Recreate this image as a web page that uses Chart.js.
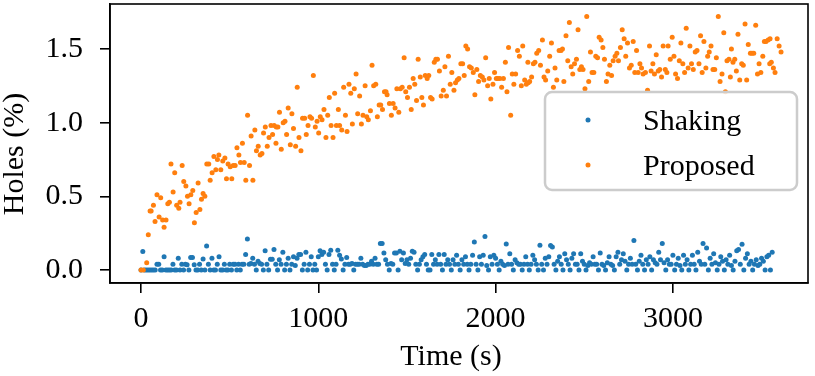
<!DOCTYPE html>
<html>
<head>
<meta charset="utf-8">
<script src="https://cdn.jsdelivr.net/npm/chart.js@4.4.1/dist/chart.umd.min.js"></script>
<style>
  html, body { margin: 0; padding: 0; background: #fff; }
</style>
</head>
<body>
<canvas id="holes" width="815" height="376"></canvas>
<script>
// Shaking: one sample every 10 s
const shakingStep = 10;
const shakingHoles = [
  0, 0.125, 0, 0, 0, 0, 0, 0, 0, 0.04,
  0.04, 0, 0, 0.09, 0, 0, 0, 0, 0.04, 0,
  0, 0.08, 0, 0.04, 0, 0.04, 0.035, 0, 0.085, 0.085,
  0.035, 0, 0, 0.04, 0, 0.075, 0, 0.163, 0.04, 0,
  0.08, 0, 0, 0.04, 0.09, 0, 0, 0.04, 0, 0,
  0.04, 0, 0.04, 0.04, 0, 0.04, 0, 0.04, 0.04, 0.105,
  0.21, 0.04, 0.045, 0.08, 0.04, 0, 0.06, 0.045, 0.04, 0,
  0.13, 0.04, 0, 0.073, 0.073, 0.14, 0.04, 0, 0.07, 0.04,
  0.12, 0, 0.04, 0.08, 0, 0.04, 0.09, 0.03, 0.08, 0.105,
  0.105, 0, 0.04, 0.12, 0, 0.04, 0.09, 0, 0.04, 0,
  0.09, 0.13, 0.105, 0.12, 0.04, 0, 0.105, 0.135, 0.04, 0,
  0.04, 0.135, 0.10, 0.075, 0, 0.04, 0.085, 0.04, 0.04, 0.045,
  0, 0.04, 0.04, 0.04, 0.08, 0.04, 0.03, 0.03, 0.04, 0.04,
  0.06, 0.04, 0.08, 0.04, 0.04, 0.18, 0.18, 0.115, 0.07, 0.04,
  0, 0.045, 0.04, 0.115, 0.115, 0, 0.127, 0.07, 0.115, 0.045,
  0.07, 0.04, 0.08, 0.127, 0.12, 0.04, 0, 0.04, 0.07, 0.09,
  0.105, 0.04, 0, 0, 0.105, 0.04, 0.07, 0.04, 0.105, 0.04,
  0, 0.105, 0.04, 0.07, 0.04, 0, 0.07, 0.04, 0.10, 0.04,
  0, 0.07, 0.04, 0.09, 0.04, 0, 0.04, 0.10, 0.19, 0.04,
  0, 0.09, 0.04, 0.10, 0.227, 0.03, 0, 0.09, 0.04, 0.10,
  0.08, 0.04, 0, 0.06, 0.04, 0.03, 0.177, 0.04, 0.11, 0.04,
  0, 0.07, 0.05, 0.04, 0.04, 0, 0.04, 0.09, 0.04, 0,
  0.04, 0.10, 0.07, 0.04, 0, 0.168, 0.04, 0, 0.08, 0.04,
  0.09, 0.167, 0.156, 0.04, 0, 0.06, 0.09, 0.04, 0, 0.11,
  0.07, 0.04, 0, 0.08, 0.11, 0.04, 0.04, 0, 0.11, 0.06,
  0.04, 0, 0.03, 0.05, 0.04, 0.09, 0.04, 0.04, 0, 0.115,
  0.04, 0.03, 0, 0.05, 0.09, 0.04, 0.03, 0, 0.09, 0.12,
  0.04, 0.07, 0.11, 0.06, 0, 0.04, 0.08, 0.04, 0.20, 0.04,
  0, 0.06, 0.10, 0.04, 0, 0.07, 0.04, 0.09, 0, 0.07,
  0.05, 0.04, 0.12, 0.07, 0.18, 0.05, 0, 0.07, 0.04, 0.04,
  0.10, 0, 0.04, 0.08, 0.03, 0, 0.10, 0.04, 0.07, 0,
  0.04, 0.10, 0.04, 0, 0.12, 0.06, 0.04, 0.18, 0.04, 0.15,
  0, 0.08, 0.04, 0.11, 0.05, 0, 0.04, 0.09, 0.06, 0,
  0.07, 0.04, 0.10, 0.03, 0, 0.06, 0.13, 0.14, 0.04, 0.175,
  0, 0.08, 0.11, 0.04, 0.06, 0, 0.04, 0.07, 0.03, 0.04,
  0.08, 0.06, 0, 0.09, 0.10, 0, 0.12
];

const proposedTime = [
  0, 13, 32, 41, 51, 57, 70, 79, 90, 102, 111, 122, 130, 141, 151, 160, 169, 181, 190, 201,
  213, 220, 232, 241, 253, 262, 271, 281, 292, 301, 311, 322, 332, 341, 350, 360, 371, 382, 390, 401,
  411, 422, 431, 439, 450, 461, 473, 482, 491, 503, 512, 520, 531, 541, 552, 561, 572, 582, 591, 601,
  612, 621, 631, 642, 651, 661, 672, 682, 691, 701, 712, 722, 733, 742, 751, 761, 763, 772, 781, 791,
  802, 812, 821, 830, 842, 851, 860, 872, 881, 891, 902, 911, 923, 932, 942, 953, 962, 972, 983, 993,
  1002, 1011, 1021, 1032, 1043, 1053, 1062, 1072, 1083, 1092, 1102, 1113, 1120, 1132, 1143, 1153, 1162, 1173, 1183, 1192,
  1203, 1213, 1222, 1233, 1243, 1252, 1264, 1273, 1282, 1294, 1303, 1312, 1324, 1333, 1343, 1352, 1362, 1373, 1382, 1388,
  1401, 1412, 1422, 1433, 1443, 1454, 1463, 1473, 1484, 1493, 1503, 1514, 1524, 1535, 1544, 1554, 1563, 1575, 1584, 1593,
  1603, 1614, 1623, 1633, 1642, 1654, 1663, 1672, 1683, 1693, 1705, 1714, 1723, 1734, 1744, 1753, 1765, 1774, 1784, 1793,
  1804, 1814, 1823, 1832, 1842, 1853, 1863, 1874, 1883, 1894, 1904, 1914, 1925, 1934, 1944, 1955, 1964, 1973, 1985, 1994,
  2004, 2013, 2024, 2034, 2044, 2055, 2064, 2073, 2085, 2094, 2103, 2113, 2124, 2134, 2145, 2153, 2164, 2173, 2182, 2184,
  2192, 2203, 2213, 2222, 2232, 2243, 2253, 2264, 2273, 2282, 2294, 2305, 2315, 2326, 2335, 2345, 2358, 2369, 2377, 2385,
  2397, 2407, 2416, 2426, 2435, 2445, 2456, 2465, 2475, 2484, 2493, 2504, 2514, 2525, 2535, 2544, 2554, 2565, 2575, 2584,
  2595, 2605, 2614, 2625, 2634, 2644, 2654, 2663, 2674, 2684, 2693, 2704, 2714, 2725, 2734, 2744, 2755, 2765, 2776, 2785,
  2795, 2804, 2814, 2823, 2832, 2845, 2857, 2868, 2877, 2887, 2896, 2906, 2917, 2926, 2936, 2945, 2957, 2966, 2973, 2985,
  2996, 3006, 3015, 3026, 3036, 3045, 3056, 3066, 3075, 3086, 3096, 3105, 3115, 3126, 3136, 3147, 3156, 3165, 3175, 3186,
  3196, 3205, 3215, 3226, 3236, 3245, 3256, 3266, 3277, 3287, 3296, 3305, 3316, 3324, 3330, 3339, 3349, 3358, 3367, 3377,
  3388, 3397, 3407, 3416, 3425, 3437, 3446, 3456, 3467, 3477, 3486, 3496, 3507, 3516, 3525, 3537, 3546, 3548, 3555, 3567,
  3576, 3588, 3599, 3610
];
const proposedHoles = [
  0.0, 0.0, 0.05, 0.24, 0.40, 0.40, 0.44, 0.33, 0.51, 0.36, 0.49, 0.34, 0.29, 0.34, 0.45, 0.46, 0.72, 0.53, 0.66, 0.44,
  0.42, 0.46, 0.71, 0.60, 0.57, 0.50, 0.45, 0.51, 0.54, 0.32, 0.39, 0.59, 0.41, 0.48, 0.52, 0.50, 0.72, 0.72, 0.61, 0.66,
  0.77, 0.68, 0.75, 0.78, 0.68, 0.74, 0.76, 0.62, 0.72, 0.70, 0.62, 0.71, 0.71, 0.83, 0.78, 0.73, 0.86, 0.73, 0.61, 1.05,
  0.71, 0.91, 0.61, 0.95, 0.81, 0.84, 0.78, 0.79, 0.93, 0.97, 0.84, 0.90, 0.98, 0.92, 0.98, 0.86, 0.97, 0.97, 1.07, 0.82,
  1.00, 1.01, 0.92, 1.10, 0.85, 1.06, 0.96, 0.84, 1.24, 0.90, 0.81, 1.03, 1.03, 0.92, 0.98, 1.04, 1.03, 1.32, 0.97, 1.01,
  0.93, 1.04, 1.02, 1.09, 0.90, 1.05, 1.17, 0.98, 0.90, 1.20, 0.98, 1.09, 0.98, 0.95, 1.24, 1.05, 0.94, 1.26, 1.20, 0.99,
  1.23, 1.33, 1.06, 1.18, 0.99, 1.05, 1.25, 1.04, 1.02, 1.08, 1.39, 1.25, 1.26, 1.04, 1.12, 1.12, 1.09, 1.21, 1.21, 1.19,
  1.13, 1.05, 1.13, 1.10, 1.23, 1.07, 1.23, 1.24, 1.44, 1.21, 1.17, 1.24, 1.09, 1.30, 1.26, 1.15, 1.43, 1.31, 1.17, 1.12,
  1.32, 1.30, 1.32, 1.17, 1.16, 1.41, 1.43, 1.43, 1.35, 1.18, 1.22, 1.38, 1.18, 1.45, 1.26, 1.34, 1.22, 1.27, 1.29, 1.30,
  1.40, 1.40, 1.32, 1.52, 1.50, 1.38, 1.37, 1.34, 1.19, 1.36, 1.28, 1.32, 1.31, 1.29, 1.44, 1.25, 1.30, 1.16, 1.26, 1.34,
  1.30, 1.30, 1.30, 1.24, 1.30, 1.41, 1.21, 1.51, 1.05, 1.33, 1.26, 1.33, 1.49, 1.45, 1.25, 1.52, 1.29, 1.26, 1.41, 1.27,
  1.28, 1.31, 1.40, 1.41, 1.47, 1.49, 1.39, 1.56, 1.31, 1.29, 1.35, 1.45, 1.54, 1.24, 1.37, 1.29, 1.49, 1.49, 1.50, 1.28,
  1.59, 1.42, 1.68, 1.38, 1.33, 1.40, 1.43, 1.63, 1.36, 1.38, 1.36, 1.23, 1.72, 1.28, 1.48, 1.34, 1.34, 1.45, 1.44, 1.58,
  1.56, 1.51, 1.43, 1.28, 1.33, 1.39, 1.32, 1.42, 1.45, 1.47, 1.42, 1.51, 1.63, 1.57, 1.45, 1.54, 1.37, 1.39, 1.55, 1.34,
  1.49, 1.34, 1.40, 1.37, 1.33, 1.34, 1.22, 1.52, 1.35, 1.40, 1.33, 1.46, 1.35, 1.36, 1.31, 1.52, 1.36, 1.34, 1.52, 1.43,
  1.58, 1.45, 1.33, 1.30, 1.42, 1.54, 1.40, 1.34, 1.64, 1.37, 1.52, 1.40, 1.36, 1.48, 1.49, 1.40, 1.59, 1.34, 1.55, 1.37,
  1.45, 1.48, 1.52, 1.36, 1.36, 1.44, 1.72, 1.28, 1.33, 1.61, 1.21, 1.42, 1.43, 1.31, 1.50, 1.41, 1.43, 1.35, 1.60, 1.29,
  1.40, 1.39, 1.67, 1.29, 1.53, 1.47, 1.47, 1.47, 1.66, 1.33, 1.40, 1.34, 1.45, 1.55, 1.55, 1.56, 1.40, 1.57, 1.41, 1.37,
  1.34, 1.57, 1.52, 1.48
];

const xTicks = [0, 1000, 2000, 3000];
const yTicks = [0, 0.5, 1.0, 1.5];
const xTitle = 'Time (s)';
const yTitle = 'Holes (%)';

const blue = '#1f77b4';
const orange = '#ff7f0e';
const serif = '"Liberation Serif", "Times New Roman", serif';

// top and right spines (matplotlib box) plus the two axis labels
const frameBox = {
  id: 'frameBox',
  afterDraw(chart) {
    const a = chart.chartArea;
    const ctx = chart.ctx;
    ctx.save();
    ctx.strokeStyle = '#000';
    ctx.lineWidth = 1.6;
    ctx.strokeRect(a.left, a.top, a.right - a.left, a.bottom - a.top);

    ctx.fillStyle = '#000';
    ctx.font = '30px ' + serif;
    ctx.textAlign = 'center';
    ctx.textBaseline = 'middle';
    ctx.fillText(xTitle, 451, 357);
    ctx.translate(15, 154);
    ctx.rotate(-Math.PI / 2);
    ctx.fillText(yTitle, 0, 0);
    ctx.restore();
  }
};

// legend with rounded grey frame
const legendBox = {
  id: 'legendBox',
  afterDatasetsDraw(chart) {
    const ctx = chart.ctx;
    ctx.save();
    ctx.beginPath();
    ctx.roundRect(545, 92, 252, 98, 7);
    ctx.fillStyle = 'rgba(255,255,255,0.8)';
    ctx.fill();
    ctx.lineWidth = 2.5;
    ctx.strokeStyle = '#cccccc';
    ctx.stroke();
    ctx.font = '30px ' + serif;
    ctx.textBaseline = 'alphabetic';
    chart.data.datasets.forEach((ds, i) => {
      const y = 120 + i * 45;
      ctx.beginPath();
      ctx.arc(588, y, 2.5, 0, Math.PI * 2);
      ctx.fillStyle = ds.backgroundColor;
      ctx.fill();
      ctx.fillStyle = '#000';
      ctx.fillText(ds.label, 643, y + 10);
    });
    ctx.restore();
  }
};

const ctx = document.getElementById('holes').getContext('2d');
new Chart(ctx, {
  type: 'scatter',
  data: {
    datasets: [
      {
        label: 'Shaking',
        data: shakingHoles.map((v, i) => ({ x: i * shakingStep, y: v })),
        backgroundColor: blue,
        borderWidth: 0,
        pointRadius: 2.5,
        order: 2
      },
      {
        label: 'Proposed',
        data: proposedTime.map((t, i) => ({ x: t, y: proposedHoles[i] })),
        backgroundColor: orange,
        borderWidth: 0,
        pointRadius: 2.5,
        order: 1
      }
    ]
  },
  options: {
    responsive: false,
    animation: false,
    events: [],
    layout: { padding: { top: 3, right: 7, left: 0, bottom: 0 } },
    plugins: {
      legend: { display: false },
      tooltip: { enabled: false }
    },
    scales: {
      x: {
        type: 'linear',
        min: -175,
        max: 3762,
        afterBuildTicks: axis => { axis.ticks = xTicks.map(v => ({ value: v })); },
        afterFit: axis => {
          axis.height = 93;
          axis.paddingLeft = 0;
          axis.paddingRight = 0;
        },
        grid: { drawOnChartArea: false, drawTicks: true, tickLength: 10, color: '#000', lineWidth: 1.6 },
        border: { display: true, color: '#000', width: 1.6 },
        ticks: {
          color: '#000',
          padding: 8,
          maxRotation: 0,
          font: { family: serif, size: 30 },
          callback: v => String(v)
        },
        title: { display: false }
      },
      y: {
        type: 'linear',
        min: -0.088,
        max: 1.805,
        afterBuildTicks: axis => { axis.ticks = yTicks.map(v => ({ value: v })); },
        afterFit: axis => {
          axis.width = 110;
          axis.paddingTop = 0;
          axis.paddingBottom = 0;
        },
        grid: { drawOnChartArea: false, drawTicks: true, tickLength: 10, color: '#000', lineWidth: 1.6 },
        border: { display: true, color: '#000', width: 1.6 },
        ticks: {
          color: '#000',
          padding: 17,
          font: { family: serif, size: 30 },
          callback: v => v.toFixed(1)
        },
        title: { display: false }
      }
    }
  },
  plugins: [frameBox, legendBox]
});
</script>
</body>
</html>
